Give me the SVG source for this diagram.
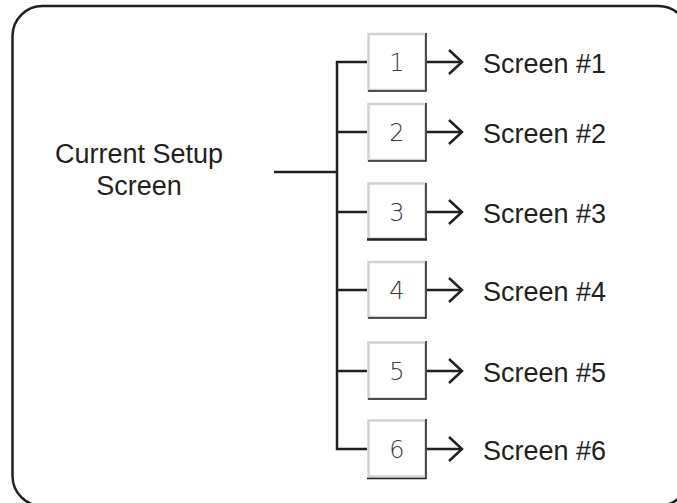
<svg xmlns="http://www.w3.org/2000/svg" width="677" height="503" viewBox="0 0 677 503">
<style>
.ln{stroke:#231f20;stroke-width:2.5;fill:none}
.lbl{font-family:"Liberation Sans",Arial,sans-serif;font-size:27px;fill:#231f20}
.dig{font-family:"DejaVu Sans",sans-serif;font-weight:200;font-size:24px;fill:#3a3a3a;text-anchor:middle}
.box{fill:#fff;stroke:#d2d2d2;stroke-width:2.5}
.shd{stroke:#231f20;stroke-width:1.5;fill:none}
</style>
<defs>
<marker id="arr" markerWidth="16" markerHeight="28" refX="14" refY="13" orient="auto" markerUnits="userSpaceOnUse">
<path d="M1,1 L14,13 L1,25" fill="none" stroke="#231f20" stroke-width="2.5"/>
</marker>
</defs>
<rect x="12.5" y="6" width="676" height="500" rx="30" ry="30" fill="#fff" stroke="#231f20" stroke-width="2.5"/>
<g id="connectors">
<line class="ln" x1="274" y1="172" x2="337" y2="172"/>
<polyline class="ln" points="367,62 337,62 337,449 367,449"/>
<line class="ln" x1="337" y1="132" x2="367" y2="132"/>
<line class="ln" x1="337" y1="212" x2="367" y2="212"/>
<line class="ln" x1="337" y1="290" x2="367" y2="290"/>
<line class="ln" x1="337" y1="371" x2="367" y2="371"/>
<line class="ln" x1="427" y1="62" x2="462" y2="62" marker-end="url(#arr)"/>
<line class="ln" x1="427" y1="132" x2="462" y2="132" marker-end="url(#arr)"/>
<line class="ln" x1="427" y1="212" x2="462" y2="212" marker-end="url(#arr)"/>
<line class="ln" x1="427" y1="290" x2="462" y2="290" marker-end="url(#arr)"/>
<line class="ln" x1="427" y1="371" x2="462" y2="371" marker-end="url(#arr)"/>
<line class="ln" x1="427" y1="449" x2="462" y2="449" marker-end="url(#arr)"/>
</g>
<g id="current">
<text class="lbl" x="139" y="163" text-anchor="middle">Current Setup</text>
<text class="lbl" x="139" y="195" text-anchor="middle">Screen</text>
</g>
<g id="b1">
<rect class="box" x="368.5" y="34" width="57" height="56"/>
<polyline class="shd" points="426,33 426,91 368,91"/>
<text class="dig" x="397" y="71">1</text>
</g>
<g id="b2">
<rect class="box" x="368.5" y="104" width="57" height="56"/>
<polyline class="shd" points="426,103 426,161 368,161"/>
<text class="dig" x="397" y="141">2</text>
</g>
<g id="b3">
<rect class="box" x="368.5" y="183.5" width="57" height="55"/>
<polyline class="shd" points="426,183 426,239"/>
<line x1="367" y1="239.5" x2="427" y2="239.5" stroke="#231f20" stroke-width="2.5"/>
<text class="dig" x="397" y="221">3</text>
</g>
<g id="b4">
<rect class="box" x="368.5" y="262" width="57" height="55"/>
<polyline class="shd" points="426,261 426,318 368,318"/>
<text class="dig" x="397" y="299">4</text>
</g>
<g id="b5">
<rect class="box" x="368.5" y="342.5" width="57" height="56"/>
<polyline class="shd" points="426,341 426,399 368,399"/>
<text class="dig" x="397" y="380">5</text>
</g>
<g id="b6">
<rect class="box" x="368.5" y="420.5" width="57" height="56"/>
<polyline class="shd" points="426,419 426,478.5 367,478.5"/>
<text class="dig" x="397" y="458">6</text>
</g>
<g id="screens">
<text class="lbl" x="483" y="73">Screen #1</text>
<text class="lbl" x="483" y="143">Screen #2</text>
<text class="lbl" x="483" y="223">Screen #3</text>
<text class="lbl" x="483" y="301">Screen #4</text>
<text class="lbl" x="483" y="382">Screen #5</text>
<text class="lbl" x="483" y="460">Screen #6</text>
</g>
</svg>
